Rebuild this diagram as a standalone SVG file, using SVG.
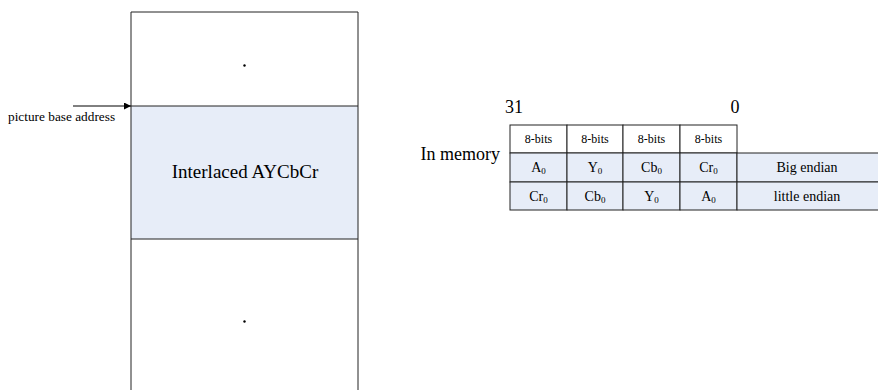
<svg xmlns="http://www.w3.org/2000/svg" width="878" height="390" viewBox="0 0 878 390">
  <defs>
    <style>
      text { font-family: "Liberation Serif", "Times New Roman", serif; fill: #000; }
      .edge { fill: none; stroke: #222; stroke-width: 1; }
      .blue { fill: #e7edf8; }
      .cell { fill: #e7edf8; stroke: #222; stroke-width: 1; }
      .hdr { fill: #fff; stroke: #222; stroke-width: 1; }
      .lbl { font-size: 13.3px; }
      .bits { font-size: 12px; }
      .val { font-size: 14px; }
      .sub { font-size: 9px; }
      .big { font-size: 18px; }
      .title { font-size: 19px; }
    </style>
    <marker id="arrow" viewBox="0 0 10 10" refX="10" refY="5" markerWidth="11" markerHeight="7" markerUnits="userSpaceOnUse" orient="auto">
      <path d="M0,0 L10,5 L0,10 Z" fill="#000"/>
    </marker>
  </defs>

  <!-- memory column -->
  <g id="memory-block">
    <rect x="131" y="12" width="227" height="94" fill="#fff"/>
    <rect class="blue" x="131" y="106" width="227" height="133"/>
    <path class="edge" d="M131,390 V12 H358 V390 M131,106 H358 M131,239 H358"/>
    <circle cx="244.5" cy="65.5" r="1.2" fill="#000"/>
    <circle cx="244.5" cy="321.5" r="1.2" fill="#000"/>
    <text class="title" x="245" y="178" text-anchor="middle">Interlaced AYCbCr</text>
  </g>

  <!-- base address pointer -->
  <g id="connectors">
    <line x1="73" y1="106" x2="131" y2="106" stroke="#000" stroke-width="1" marker-end="url(#arrow)"/>
  </g>
  <g id="base-label">
    <text class="lbl" x="8" y="121">picture base address</text>
  </g>

  <!-- byte layout table -->
  <g id="byte-table">
    <text class="big" x="505" y="113">31</text>
    <text class="big" x="735" y="113" text-anchor="middle">0</text>
    <text class="big" x="500" y="160" text-anchor="end">In memory</text>

    <rect class="hdr" x="510" y="125" width="57" height="28"/>
    <rect class="hdr" x="567" y="125" width="56" height="28"/>
    <rect class="hdr" x="623" y="125" width="57" height="28"/>
    <rect class="hdr" x="680" y="125" width="57" height="28"/>
    <text class="bits" x="538.5" y="143" text-anchor="middle">8-bits</text>
    <text class="bits" x="595" y="143" text-anchor="middle">8-bits</text>
    <text class="bits" x="651.5" y="143" text-anchor="middle">8-bits</text>
    <text class="bits" x="708.5" y="143" text-anchor="middle">8-bits</text>

    <rect class="cell" x="510" y="153" width="57" height="29"/>
    <rect class="cell" x="567" y="153" width="56" height="29"/>
    <rect class="cell" x="623" y="153" width="57" height="29"/>
    <rect class="cell" x="680" y="153" width="57" height="29"/>
    <rect class="cell" x="737" y="153" width="145" height="29"/>
    <rect class="cell" x="510" y="182" width="57" height="28"/>
    <rect class="cell" x="567" y="182" width="56" height="28"/>
    <rect class="cell" x="623" y="182" width="57" height="28"/>
    <rect class="cell" x="680" y="182" width="57" height="28"/>
    <rect class="cell" x="737" y="182" width="145" height="28"/>

    <text class="val" x="538.5" y="172" text-anchor="middle">A<tspan class="sub" dy="2">0</tspan></text>
    <text class="val" x="595" y="172" text-anchor="middle">Y<tspan class="sub" dy="2">0</tspan></text>
    <text class="val" x="651.5" y="172" text-anchor="middle">Cb<tspan class="sub" dy="2">0</tspan></text>
    <text class="val" x="708.5" y="172" text-anchor="middle">Cr<tspan class="sub" dy="2">0</tspan></text>
    <text class="val" x="807" y="172" text-anchor="middle">Big endian</text>

    <text class="val" x="538.5" y="201" text-anchor="middle">Cr<tspan class="sub" dy="2">0</tspan></text>
    <text class="val" x="595" y="201" text-anchor="middle">Cb<tspan class="sub" dy="2">0</tspan></text>
    <text class="val" x="651.5" y="201" text-anchor="middle">Y<tspan class="sub" dy="2">0</tspan></text>
    <text class="val" x="708.5" y="201" text-anchor="middle">A<tspan class="sub" dy="2">0</tspan></text>
    <text class="val" x="807" y="201" text-anchor="middle">little endian</text>
  </g>
</svg>
